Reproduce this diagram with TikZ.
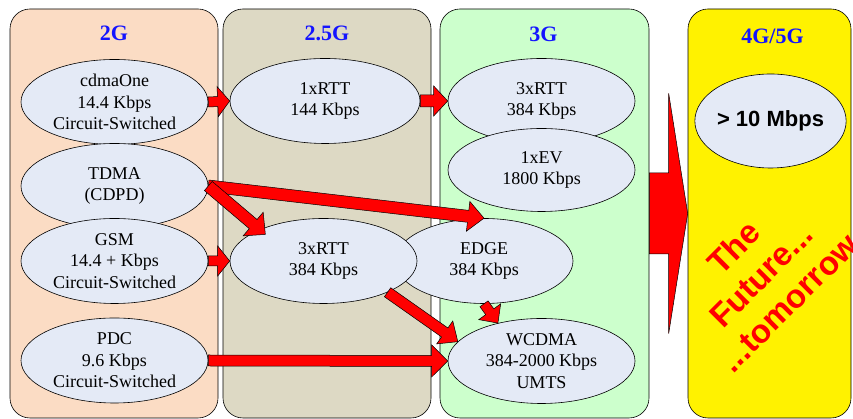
\documentclass[tikz,border=0pt]{standalone}
\usepackage{fontspec}
\setmainfont{Liberation Serif}
\newfontfamily\arialfont{Liberation Sans}
\usetikzlibrary{shapes.geometric,calc}

\definecolor{peach}{RGB}{251,220,196}
\definecolor{khaki}{RGB}{221,217,196}
\definecolor{mint}{RGB}{204,255,204}
\definecolor{bubblefill}{RGB}{228,234,246}
\definecolor{headblue}{RGB}{20,20,255}

\tikzset{panel/.style={rectangle, rounded corners=20pt, draw=black, line width=0.6pt,
    inner sep=0pt, minimum height=409pt}}
\tikzset{heading/.style={anchor=base, text=headblue, font=\bfseries\fontsize{22}{26}\selectfont}}
\tikzset{bubble/.style={ellipse, draw=black, line width=0.6pt, fill=bubblefill, inner sep=0pt,
    align=center, minimum width=187pt, minimum height=85pt, font=\fontsize{18}{21.5}\selectfont}}
\tikzset{blockarrow/.style={fill=red, draw=black, line width=0.5pt, line join=miter}}

% red block arrow: #1 from, #2 to, #3 half shaft, #4 half head, #5 head length
\newcommand{\redarrow}[5]{%
  \coordinate (ra-base) at ($(#2)!#5!(#1)$);
  \draw[blockarrow] ($(#1)!#3!90:(#2)$) -- ($(ra-base)!#3!90:(#2)$)
    -- ($(ra-base)!#4!90:(#2)$) -- (#2) -- ($(ra-base)!#4!-90:(#2)$)
    -- ($(ra-base)!#3!-90:(#2)$) -- ($(#1)!#3!-90:(#2)$) -- cycle;
}

\begin{document}
\begin{tikzpicture}[x=1pt, y=1pt]
  \useasboundingbox (0,0) rectangle (853,419);

  % columns
  \node[panel, fill=peach, minimum width=208pt] (p2g) at (114,205.5) {};
  \node[panel, fill=khaki, minimum width=208pt] (p25g) at (327,205.5) {};
  \node[panel, fill=mint, minimum width=209pt] (p3g) at (544.5,205.5) {};
  \node[panel, fill=yellow, minimum width=163pt] (p4g) at (769.5,205.5) {};

  \node[heading] (h2g) at (114,378) {2G};
  \node[heading] (h25g) at (327,378) {2.5G};
  \node[heading] (h3g) at (543.5,377) {3G};
  \node[heading] (h4g) at (772.5,375) {4G/5G};

  % 2G
  \node[bubble] (cdma) at (114.5,317) {cdmaOne\\14.4 Kbps\\Circuit-Switched};
  \node[bubble] (tdma) at (114.5,233) {TDMA\\(CDPD)};
  \node[bubble] (gsm) at (114.5,158) {GSM\\14.4 + Kbps\\Circuit-Switched};
  \node[bubble] (pdc) at (114.5,58.5) {PDC\\9.6 Kbps\\Circuit-Switched};

  % 2.5G
  \node[bubble, minimum width=190pt] (rtt1) at (325,318) {1xRTT\\144 Kbps};
  \node[bubble, minimum width=178pt] (edge) at (484,158) {EDGE\\384 Kbps};
  \node[bubble] (rtt3a) at (323.5,158) {3xRTT\\384 Kbps};

  % 3G
  \node[bubble] (rtt3b) at (541.5,318) {3xRTT\\384 Kbps};
  \node[bubble, minimum height=83pt] (ev) at (541.5,249) {1xEV\\1800 Kbps};
  \node[bubble] (wcdma) at (541.5,58) {WCDMA\\384-2000 Kbps\\UMTS};

  % 4G/5G
  \node[bubble, minimum width=143pt, minimum height=94pt,
    font=\arialfont\bfseries\fontsize{22}{26}\selectfont] (mbps) at (770.5,298) {> 10 Mbps};
  \node[rotate=45, align=center, text=red,
    font=\arialfont\bfseries\fontsize{33}{39}\selectfont] (future) at (761,144)
    {The\\Future...\\...tomorrow};

  % arrows
  \coordinate (rtt3a-in) at ([yshift=-7pt]rtt3a.150);
  \redarrow{p3g.east}{p4g.west}{40.5pt}{120pt}{19pt}
  \redarrow{cdma.east}{rtt1.west}{5pt}{15pt}{12pt}
  \redarrow{rtt1.east}{rtt3b.west}{6pt}{15pt}{14pt}
  \redarrow{gsm.east}{rtt3a.west}{5pt}{15pt}{12pt}
  \redarrow{pdc.east}{wcdma.west}{5.5pt}{16pt}{16pt}
  \redarrow{tdma.east}{edge.north}{6pt}{15pt}{16pt}
  \redarrow{tdma.east}{rtt3a-in}{6pt}{15.5pt}{16pt}
  \redarrow{rtt3a.-26}{wcdma.167}{5.5pt}{14pt}{16pt}
  \redarrow{edge.south}{wcdma.139}{5pt}{13.5pt}{14pt}
\end{tikzpicture}
\end{document}
